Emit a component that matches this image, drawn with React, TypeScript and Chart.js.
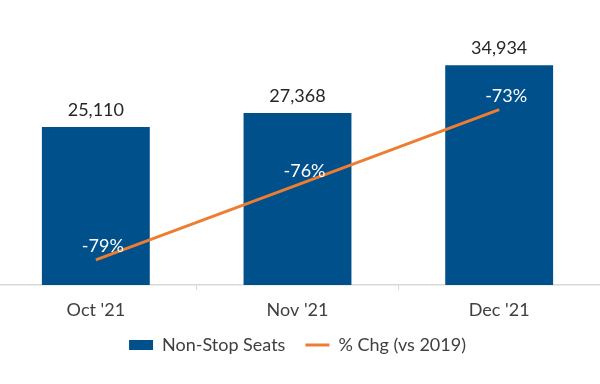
import React, { useEffect, useRef } from "react";
import { Chart, registerables } from "chart.js";

Chart.register(...registerables);

const categories = ["Oct '21", "Nov '21", "Dec '21"];
const seats = [25110, 27368, 34934];
const pctChange = [-79, -76, -73];
const seriesNames = ["Non-Stop Seats", "% Chg (vs 2019)"];

const BLUE = "#00508b";
const ORANGE = "#ed7d31";
const FONT = "Lato";

const valueLabels = {
  id: "valueLabels",
  afterDatasetsDraw(chart: any) {
    const ctx = chart.ctx;
    ctx.save();
    ctx.font = `18px ${FONT}`;
    ctx.textAlign = "center";
    ctx.textBaseline = "alphabetic";
    chart.data.datasets.forEach((ds: any, i: number) => {
      const meta = chart.getDatasetMeta(i);
      meta.data.forEach((el: any, j: number) => {
        const v = ds.data[j];
        if (ds.type === "bar") {
          ctx.fillStyle = "#262626";
          ctx.fillText(v.toLocaleString("en-US"), el.x, el.y - 11);
        } else {
          ctx.fillStyle = "#ffffff";
          ctx.fillText(`${v}%`, el.x + 7, el.y - 8);
        }
      });
    });
    ctx.restore();
  },
};

export default function App() {
  const ref = useRef<HTMLCanvasElement | null>(null);

  useEffect(() => {
    if (!ref.current) return;
    const chart = new Chart(ref.current, {
      type: "bar",
      data: {
        labels: categories,
        datasets: [
          {
            type: "line",
            label: seriesNames[1],
            data: pctChange,
            yAxisID: "y2",
            borderColor: ORANGE,
            backgroundColor: ORANGE,
            borderWidth: 3,
            pointRadius: 0,
            pointStyle: "line",
            tension: 0,
          } as any,
          {
            type: "bar",
            label: seriesNames[0],
            data: seats,
            yAxisID: "y",
            backgroundColor: BLUE,
            categoryPercentage: 1,
            barPercentage: 0.535,
          } as any,
        ],
      },
      options: {
        responsive: false,
        animation: false,
        layout: { padding: { top: 2, bottom: 20, left: 0, right: 0 } },
        scales: {
          x: {
            offset: true,
            grid: {
              display: true,
              offset: true,
              drawOnChartArea: false,
              drawTicks: true,
              tickLength: 5,
              color: "#d9d9d9",
              lineWidth: 1,
            },
            border: { display: true, color: "#d9d9d9", width: 1.5 },
            ticks: {
              font: { family: FONT, size: 18 },
              color: "#404040",
              padding: 9,
            },
            afterFit: (s: any) => {
              s.height = 31;
            },
          },
          y: { display: false, min: 0, max: 45000 },
          y2: { display: false, min: -80, max: -68.7 },
        },
        plugins: {
          tooltip: { enabled: false },
          legend: {
            position: "bottom",
            labels: {
              usePointStyle: true,
              pointStyleWidth: 24,
              boxHeight: 10,
              padding: 20,
              font: { family: FONT, size: 18 },
              color: "#404040",
              sort: (a: any, b: any) => b.datasetIndex - a.datasetIndex,
              generateLabels: (c: any) =>
                c.data.datasets.map((ds: any, i: number) => ({
                  text: ds.label,
                  datasetIndex: i,
                  fillStyle: ds.type === "bar" ? BLUE : "transparent",
                  strokeStyle: ds.type === "bar" ? BLUE : ORANGE,
                  lineWidth: ds.type === "bar" ? 0 : 3,
                  pointStyle: ds.type === "bar" ? "rect" : "line",
                  hidden: false,
                  fontColor: "#404040",
                })),
            },
          },
        },
      } as any,
      plugins: [valueLabels],
    });
    return () => chart.destroy();
  }, []);

  return (
    <div style={{ position: "fixed", left: -5, top: 0, width: 605, height: 384, background: "#fff" }}>
      <canvas ref={ref} width={605} height={384} style={{ display: "block" }} />
    </div>
  );
}
